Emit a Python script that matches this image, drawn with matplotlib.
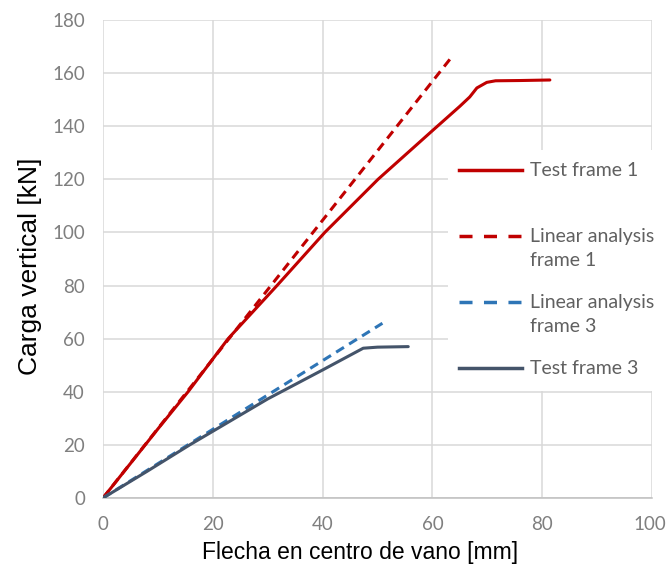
import matplotlib
matplotlib.use("Agg")
import matplotlib.pyplot as plt
import matplotlib.transforms as mtransforms
from matplotlib.lines import Line2D

# Data
test1_x = [0, 5, 10, 15.5, 22.8, 31.7, 40.4, 50.1, 60.1, 65.0, 66.8, 68.1, 69.9, 71.5, 76.0, 81.4]
test1_y = [0, 13, 26, 40, 60, 80, 100, 120, 138.5, 147.5, 151, 154.4, 156.5, 157.1, 157.2, 157.4]
lin1_x = [0, 63.8]
lin1_y = [0, 166.8]
lin3_x = [0, 50.9]
lin3_y = [0, 65.8]
test3_x = [0, 8, 15.8, 30, 40, 47.4, 50, 55.6]
test3_y = [0, 10, 20, 37.3, 48.2, 56.4, 56.8, 57.0]

labels = ["Test frame 1\n ", "Linear analysis\nframe 1", "Linear analysis\nframe 3", "Test frame 3"]
xticks = [0, 20, 40, 60, 80, 100]
yticks = [0, 20, 40, 60, 80, 100, 120, 140, 160, 180]

RED = "#C00000"
DARKBLUE = "#44546A"
BLUE = "#2E75B6"
GRID = "#D9D9D9"
TICKC = "#7F7F7F"
LEGC = "#606060"

fig = plt.figure(figsize=(6.67, 5.69), dpi=100)
ax = fig.add_axes([0.1544, 0.1248, 0.8231, 0.8401])

ax.plot(test1_x, test1_y, color=RED, lw=2.2, solid_capstyle="round", zorder=3)
ax.plot(lin1_x, lin1_y, color=RED, lw=2.2, dashes=(3, 2), zorder=3)
ax.plot(lin3_x, lin3_y, color=BLUE, lw=2.2, dashes=(3, 2), zorder=3)
ax.plot(test3_x, test3_y, color=DARKBLUE, lw=2.2, solid_capstyle="round", zorder=3)

ax.set_xlim(0, 100)
ax.set_ylim(0, 180)
ax.set_xticks(xticks)
ax.set_yticks(yticks)
ax.grid(True, color=GRID, lw=1.1, zorder=0)
ax.set_axisbelow(True)
for s in ["top", "right", "left"]:
    ax.spines[s].set_visible(False)
ax.spines["bottom"].set_color("#BFBFBF")
ax.spines["bottom"].set_linewidth(1.1)
ax.tick_params(length=0, labelsize=13.5, labelcolor=TICKC)
ax.tick_params(axis="x", pad=13)
ax.tick_params(axis="y", pad=13)
for t in ax.get_xticklabels() + ax.get_yticklabels():
    t.set_fontfamily("Lato")
# nudge the last x tick label so it stays inside the figure
last = ax.xaxis.get_major_ticks()[-1].label1
last.set_transform(last.get_transform() +
                   mtransforms.ScaledTranslation(-2 / 100, 0, fig.dpi_scale_trans))

ax.set_xlabel("Flecha en centro de vano [mm]", fontsize=16.5, family="Liberation Sans")
ax.xaxis.set_label_coords(0.468, -0.09)
ax.set_ylabel("Carga vertical [kN]", fontsize=19, family="Liberation Sans")
ax.yaxis.set_label_coords(-0.111, 0.485)

handles = [
    Line2D([], [], color=RED, lw=2.5),
    Line2D([], [], color=RED, lw=2.5, dashes=(3.75, 3.3)),
    Line2D([], [], color=BLUE, lw=2.5, dashes=(3.75, 3.3)),
    Line2D([], [], color=DARKBLUE, lw=2.5),
]
leg = ax.legend(handles, labels, loc="upper left", bbox_to_anchor=(0.628, 0.728),
                borderaxespad=0,
                frameon=True, facecolor="white", edgecolor="none", framealpha=1,
                prop={"family": "Lato", "size": 14}, labelcolor=LEGC,
                handlelength=3.2, handletextpad=0.41, labelspacing=1.25,
                handleheight=1.2, borderpad=0.6, fancybox=False)
leg.set_zorder(5)
leg.get_frame().set_linewidth(0)
for t in leg.get_texts():
    t.set_linespacing(1.55)
for col in leg._legend_handle_box.get_children():
    for row in col.get_children():
        row.align = "top"

fig.savefig("out.png", dpi=100)
